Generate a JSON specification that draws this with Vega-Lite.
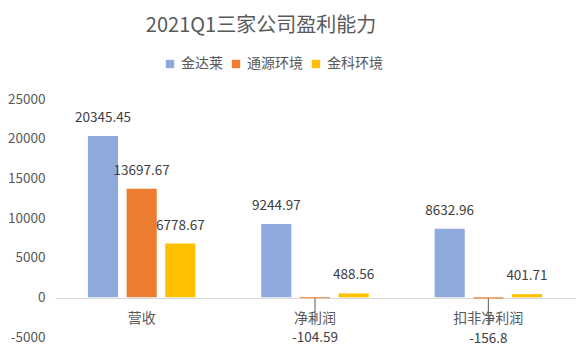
{
  "$schema": "https://vega.github.io/schema/vega-lite/v6.json",
  "autosize": "none",
  "width": 520,
  "height": 238,
  "padding": {"left": 55, "top": 99, "right": 13, "bottom": 11},
  "background": "#ffffff",
  "config": {
    "view": {"stroke": null},
    "font": "Noto Sans CJK SC",
    "locale": {"number": {"decimal": ".", "thousands": ",", "grouping": [3], "currency": ["", ""], "minus": "-"}},
    "axisY": {
      "domain": false, "ticks": false, "grid": false, "title": null,
      "labelFontSize": 13.5, "labelColor": "#595959", "labelPadding": 10,
      "labelOverlap": false, "labelBound": false, "labelFlush": false, "format": "d"
    }
  },
  "title": {
    "text": "2021Q1三家公司盈利能力",
    "fontSize": 20,
    "fontWeight": "normal",
    "color": "#595959",
    "font": "Noto Sans CJK SC",
    "anchor": "middle",
    "frame": "group",
    "dx": -54,
    "offset": 21
  },
  "data": {
    "values": [
      {"category": "营收", "company": "金达莱", "value": 20345.45},
      {"category": "营收", "company": "通源环境", "value": 13697.67},
      {"category": "营收", "company": "金科环境", "value": 6778.67},
      {"category": "净利润", "company": "金达莱", "value": 9244.97},
      {"category": "净利润", "company": "通源环境", "value": -104.59},
      {"category": "净利润", "company": "金科环境", "value": 488.56},
      {"category": "扣非净利润", "company": "金达莱", "value": 8632.96},
      {"category": "扣非净利润", "company": "通源环境", "value": -156.8},
      {"category": "扣非净利润", "company": "金科环境", "value": 401.71}
    ]
  },
  "encoding": {
    "x": {
      "field": "category", "type": "nominal",
      "sort": ["营收", "净利润", "扣非净利润"],
      "scale": {"paddingInner": 0.38, "paddingOuter": 0.19},
      "axis": {
        "title": null, "domain": true, "domainColor": "#d9d9d9", "domainWidth": 1.2,
        "ticks": false, "labelAngle": 0,
        "labelFontSize": 14, "labelColor": "#595959", "labelPadding": 13,
        "offset": -39, "labelFont": "Noto Sans CJK SC"
      }
    },
    "xOffset": {
      "field": "company", "type": "nominal",
      "sort": ["金达莱", "通源环境", "金科环境"],
      "scale": {"paddingInner": 0.22}
    },
    "y": {
      "field": "value", "type": "quantitative",
      "scale": {"domain": [-5000, 25000], "nice": false},
      "axis": {
        "title": null, "values": [-5000, 0, 5000, 10000, 15000, 20000, 25000],
        "tickCount": 7, "labelOverlap": false, "format": "d"
      }
    }
  },
  "layer": [
    {
      "mark": {"type": "bar"},
      "encoding": {
        "color": {
          "field": "company", "type": "nominal",
          "sort": ["金达莱", "通源环境", "金科环境"],
          "scale": {"domain": ["金达莱", "通源环境", "金科环境"], "range": ["#8faadc", "#ed7d31", "#ffc000"]},
          "legend": {
            "title": null, "orient": "none", "direction": "horizontal",
            "legendX": 108, "legendY": -42,
            "symbolType": "square", "symbolSize": 70, "symbolStrokeWidth": 0,
            "labelFontSize": 14, "labelColor": "#595959", "columnPadding": 6, "labelOffset": 4
          }
        }
      }
    },
    {
      "transform": [{"filter": "datum.value > 0"}],
      "mark": {"type": "text", "dy": -18, "fontSize": 13.5, "color": "#404040", "baseline": "middle"},
      "encoding": {
        "text": {"field": "value", "type": "nominal"}
      }
    },
    {
      "transform": [{"filter": "datum.value < 0"}],
      "mark": {"type": "rule", "color": "#595959", "strokeWidth": 1},
      "encoding": {
        "y2": {"datum": -3500}
      }
    },
    {
      "transform": [{"filter": "datum.value < 0"}],
      "mark": {"type": "text", "dy": 40, "fontSize": 13.5, "color": "#404040", "baseline": "middle"},
      "encoding": {
        "text": {"field": "value", "type": "nominal"}
      }
    }
  ]
}
